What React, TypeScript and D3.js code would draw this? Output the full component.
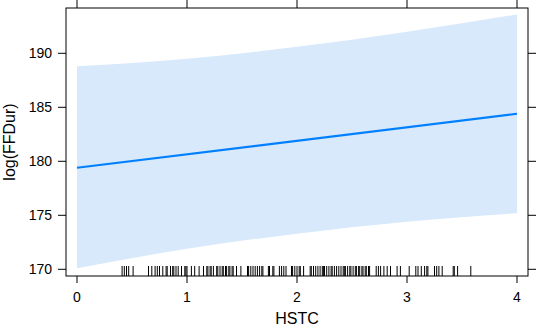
import React from 'react';
import * as d3 from 'd3';

// effect of HSTC on log(FFDur): fit line, confidence band and rug
const fitX = [0, 4];
const fitY = [179.4, 184.4];

const bandX = [0, 1, 2, 3, 4];
const bandUpper = [188.8, 189.5, 190.6, 192.0, 193.6];
const bandLower = [170.1, 171.9, 173.3, 174.4, 175.2];

const rugValues = [
  0.41, 0.43, 0.45, 0.47, 0.51,
  0.65, 0.68, 0.71, 0.73, 0.75, 0.78, 0.81, 0.82, 0.85, 0.87, 0.88, 0.9, 0.92, 0.95, 0.98, 0.99,
  1.0, 1.04, 1.07, 1.11, 1.15, 1.18, 1.19, 1.21, 1.22, 1.24, 1.27, 1.28, 1.3, 1.32, 1.33, 1.35,
  1.36, 1.38, 1.39, 1.41, 1.42, 1.45, 1.49, 1.55, 1.56, 1.58, 1.6, 1.62, 1.64, 1.66, 1.68, 1.69,
  1.74, 1.75, 1.78, 1.79, 1.84, 1.86, 1.88, 1.9, 1.95, 1.96, 1.98,
  2.0, 2.02, 2.03, 2.06, 2.12, 2.13, 2.15, 2.17, 2.19, 2.21, 2.23, 2.24, 2.25, 2.27, 2.29, 2.31,
  2.32, 2.34, 2.36, 2.38, 2.4, 2.42, 2.43, 2.44, 2.46, 2.48, 2.49, 2.51, 2.53, 2.54, 2.56, 2.57,
  2.59, 2.6, 2.62, 2.63, 2.65, 2.66, 2.72, 2.74, 2.76, 2.79, 2.82, 2.85, 2.91, 2.94,
  3.02, 3.08, 3.1, 3.13, 3.16, 3.18, 3.19, 3.25, 3.27, 3.29, 3.32, 3.42, 3.43, 3.46, 3.58,
];

const xTicks = [0, 1, 2, 3, 4];
const yTicks = [170, 175, 180, 185, 190];

const W = 536;
const H = 332;
const box = { left: 66, right: 528, top: 8, bottom: 276 };
const font = 'Liberation Sans, Arial, Helvetica, sans-serif';

export default function App() {
  const x = d3.scaleLinear().domain([0, 4]).range([77, 517]);
  const y = d3.scaleLinear().domain([170, 190]).range([269.3, 53.3]);

  const band = d3
    .area<number>()
    .x((d) => x(bandX[d]))
    .y0((d) => y(bandLower[d]))
    .y1((d) => y(bandUpper[d]))
    .curve(d3.curveMonotoneX);

  const line = d3
    .line<number>()
    .x((d) => x(fitX[d]))
    .y((d) => y(fitY[d]));

  return (
    <svg width={W} height={H} style={{ position: 'absolute', left: 0, top: 0 }}>
      <path d={band(bandX.map((_, i) => i)) || ''} fill="#d8e9fb" />
      <path d={line(fitX.map((_, i) => i)) || ''} fill="none" stroke="#0080ff" strokeWidth={2.2} />

      {rugValues.map((v, i) => (
        <line key={i} x1={x(v)} x2={x(v)} y1={box.bottom} y2={box.bottom - 10} stroke="#000" strokeWidth={1} />
      ))}

      <rect
        x={box.left}
        y={box.top}
        width={box.right - box.left}
        height={box.bottom - box.top}
        fill="none"
        stroke="#000"
        strokeWidth={1}
      />

      {xTicks.map((t) => (
        <g key={t}>
          <line x1={x(t)} x2={x(t)} y1={box.bottom} y2={box.bottom + 7} stroke="#000" />
          <line x1={x(t)} x2={x(t)} y1={box.top} y2={box.top - 8} stroke="#000" />
          <text x={x(t)} y={302} textAnchor="middle" fontFamily={font} fontSize={14}>
            {t}
          </text>
        </g>
      ))}

      {yTicks.map((t) => (
        <g key={t}>
          <line x1={box.left} x2={box.left - 8} y1={y(t)} y2={y(t)} stroke="#000" />
          <line x1={box.right} x2={box.right + 8} y1={y(t)} y2={y(t)} stroke="#000" />
          <text x={52} y={y(t)} dy="0.35em" textAnchor="end" fontFamily={font} fontSize={14}>
            {t}
          </text>
        </g>
      ))}

      <text x={297} y={324} textAnchor="middle" fontFamily={font} fontSize={16}>
        HSTC
      </text>
      <text
        transform={`translate(15,142) rotate(-90)`}
        textAnchor="middle"
        fontFamily={font}
        fontSize={16}
      >
        log(FFDur)
      </text>
    </svg>
  );
}
